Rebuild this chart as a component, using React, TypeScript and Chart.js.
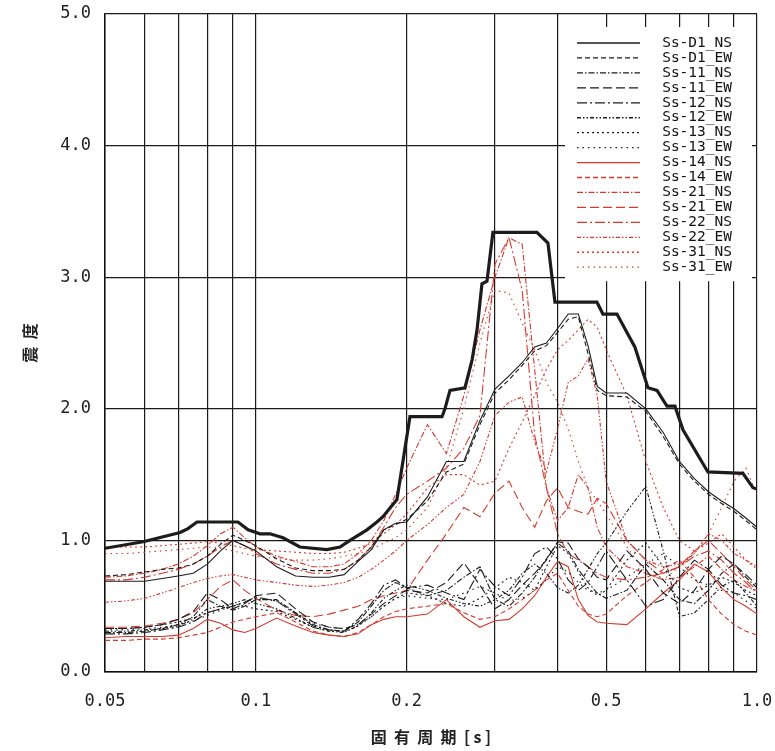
import React, { useEffect, useRef } from 'react';
import { Chart, registerables } from 'chart.js';

Chart.register(...registerables);

// Natural periods (s) shared by the response spectra
const PERIODS = [0.05, 0.055, 0.06, 0.065, 0.07, 0.075, 0.08, 0.085, 0.09, 0.095, 0.1, 0.11, 0.12, 0.13, 0.14, 0.15, 0.16, 0.17, 0.18, 0.19, 0.2, 0.22, 0.24, 0.26, 0.28, 0.3, 0.32, 0.34, 0.36, 0.38, 0.4, 0.42, 0.44, 0.46, 0.48, 0.5, 0.55, 0.6, 0.65, 0.7, 0.75, 0.8, 0.85, 0.9, 0.95, 1.0];

// Thick envelope (design spectrum)
const ENVELOPE_T = [0.05, 0.0596, 0.0706, 0.0732, 0.0763, 0.0921, 0.0965, 0.1019, 0.1067, 0.1133, 0.1224, 0.1386, 0.1472, 0.1541, 0.1666, 0.1744, 0.1793, 0.1912, 0.203, 0.2352, 0.2384, 0.244, 0.2614, 0.27, 0.2763, 0.2826, 0.2892, 0.2972, 0.3638, 0.3827, 0.3952, 0.4793, 0.4927, 0.5255, 0.5502, 0.5705, 0.6059, 0.6316, 0.6612, 0.6859, 0.7116, 0.798, 0.9373, 0.9816, 1.0];
const ENVELOPE_V = [0.94, 0.99, 1.06, 1.09, 1.14, 1.14, 1.08, 1.05, 1.05, 1.02, 0.95, 0.93, 0.95, 1.0, 1.08, 1.14, 1.18, 1.31, 1.94, 1.94, 2.0, 2.14, 2.16, 2.37, 2.6, 2.95, 2.97, 3.34, 3.34, 3.26, 2.81, 2.81, 2.72, 2.72, 2.58, 2.47, 2.16, 2.14, 2.02, 2.02, 1.84, 1.52, 1.51, 1.4, 1.39];

const SS_D1_NS = [0.69, 0.69, 0.69, 0.71, 0.73, 0.75, 0.82, 0.92, 1.0, 0.96, 0.92, 0.8, 0.73, 0.72, 0.72, 0.74, 0.84, 0.93, 1.08, 1.13, 1.14, 1.33, 1.6, 1.6, 1.91, 2.15, 2.25, 2.35, 2.47, 2.5, 2.61, 2.72, 2.72, 2.48, 2.17, 2.12, 2.12, 2.0, 1.82, 1.6, 1.47, 1.37, 1.3, 1.24, 1.17, 1.1];
const SS_D1_EW = [0.73, 0.74, 0.76, 0.78, 0.79, 0.82, 0.88, 0.97, 1.04, 1.0, 0.96, 0.86, 0.79, 0.77, 0.77, 0.78, 0.85, 0.95, 1.08, 1.12, 1.16, 1.3, 1.52, 1.58, 1.88, 2.12, 2.22, 2.33, 2.44, 2.48, 2.58, 2.68, 2.7, 2.42, 2.14, 2.1, 2.09, 1.98, 1.79, 1.58, 1.45, 1.35, 1.28, 1.22, 1.15, 1.08];
const SS_11_NS = [0.3, 0.3, 0.31, 0.33, 0.36, 0.42, 0.55, 0.5, 0.47, 0.5, 0.55, 0.55, 0.45, 0.36, 0.32, 0.31, 0.38, 0.5, 0.62, 0.68, 0.64, 0.58, 0.62, 0.72, 0.8, 0.55, 0.5, 0.6, 0.72, 0.86, 0.98, 0.92, 0.78, 0.68, 0.6, 0.56, 0.62, 0.82, 0.7, 0.55, 0.52, 0.62, 0.75, 0.82, 0.72, 0.64];
const SS_11_EW = [0.33, 0.33, 0.34, 0.36, 0.4, 0.46, 0.6, 0.55, 0.48, 0.52, 0.58, 0.6, 0.48, 0.38, 0.34, 0.33, 0.36, 0.44, 0.52, 0.58, 0.62, 0.6, 0.68, 0.83, 0.66, 0.48, 0.55, 0.66, 0.75, 0.85, 0.99, 0.98, 0.86, 0.8, 0.72, 0.7, 0.92, 0.78, 0.6, 0.52, 0.62, 0.78, 0.88, 0.82, 0.74, 0.66];
const SS_12_NS = [0.29, 0.29, 0.3, 0.32, 0.34, 0.38, 0.45, 0.48, 0.5, 0.53, 0.57, 0.54, 0.44, 0.35, 0.32, 0.31, 0.4, 0.52, 0.66, 0.7, 0.64, 0.66, 0.6, 0.55, 0.78, 0.65, 0.58, 0.72, 0.9, 0.95, 0.86, 0.7, 0.62, 0.68, 0.8, 0.92, 0.7, 0.5, 0.55, 0.72, 0.85, 0.78, 0.66, 0.6, 0.58, 0.55];
const SS_12_EW = [0.31, 0.31, 0.32, 0.33, 0.35, 0.4, 0.48, 0.5, 0.52, 0.55, 0.52, 0.48, 0.41, 0.34, 0.31, 0.3, 0.35, 0.45, 0.56, 0.62, 0.66, 0.62, 0.56, 0.52, 0.5, 0.55, 0.62, 0.75, 0.82, 0.75, 0.64, 0.6, 0.66, 0.78, 0.9, 0.98, 1.22, 1.41, 0.92, 0.42, 0.45, 0.55, 0.65, 0.7, 0.6, 0.5];
const SS_13_NS = [0.33, 0.33, 0.34, 0.36, 0.38, 0.41, 0.45, 0.48, 0.52, 0.5, 0.48, 0.46, 0.4, 0.34, 0.31, 0.31, 0.35, 0.42, 0.5, 0.56, 0.6, 0.58, 0.52, 0.5, 0.56, 0.64, 0.72, 0.68, 0.62, 0.8, 0.96, 0.9, 0.76, 0.64, 0.58, 0.62, 0.85, 0.98, 0.8, 0.64, 0.6, 0.66, 0.72, 0.68, 0.62, 0.58];
const SS_13_EW = [0.32, 0.32, 0.33, 0.34, 0.36, 0.39, 0.43, 0.47, 0.5, 0.53, 0.56, 0.54, 0.45, 0.37, 0.34, 0.33, 0.36, 0.42, 0.5, 0.56, 0.58, 0.56, 0.55, 0.6, 0.65, 0.6, 0.54, 0.56, 0.62, 0.7, 0.8, 0.76, 0.68, 0.62, 0.6, 0.62, 0.72, 0.82, 0.9, 0.8, 0.7, 0.66, 0.62, 0.6, 0.54, 0.48];
const SS_14_NS = [0.26, 0.27, 0.27, 0.27, 0.28, 0.33, 0.4, 0.37, 0.32, 0.3, 0.33, 0.41, 0.35, 0.3, 0.28, 0.27, 0.29, 0.36, 0.4, 0.42, 0.42, 0.44, 0.55, 0.42, 0.34, 0.39, 0.4, 0.48, 0.58, 0.72, 0.84, 0.8, 0.55, 0.43, 0.38, 0.37, 0.36, 0.48, 0.6, 0.7, 0.82, 0.76, 0.64, 0.55, 0.5, 0.44];
const SS_14_EW = [0.24, 0.24, 0.25, 0.25, 0.26, 0.28, 0.3, 0.34, 0.38, 0.4, 0.42, 0.45, 0.38, 0.31, 0.28, 0.27, 0.3, 0.36, 0.42, 0.46, 0.48, 0.5, 0.52, 0.45, 0.4, 0.42, 0.48, 0.55, 0.62, 0.7, 0.75, 0.62, 0.5, 0.44, 0.42, 0.44, 0.58, 0.68, 0.78, 0.85, 0.72, 0.55, 0.44, 0.36, 0.31, 0.28];
const SS_21_NS = [0.72, 0.73, 0.75, 0.78, 0.82, 0.88, 0.96, 1.05, 1.1, 1.02, 0.95, 0.88, 0.84, 0.8, 0.8, 0.82, 0.9, 1.0, 1.15, 1.35, 1.55, 1.88, 1.66, 2.1, 2.6, 3.0, 3.3, 3.25, 2.3, 1.4, 1.15, 1.25, 1.5, 1.4, 1.1, 0.95, 0.8, 0.75, 0.7, 0.72, 0.8, 0.88, 0.78, 0.7, 0.65, 0.62];
const SS_21_EW = [0.34, 0.34, 0.35, 0.37, 0.4, 0.45, 0.55, 0.65, 0.7, 0.62, 0.56, 0.47, 0.43, 0.42, 0.44, 0.47, 0.5, 0.55, 0.58, 0.6, 0.62, 0.85, 1.05, 1.25, 1.18, 1.36, 1.45, 1.25, 1.1, 1.3, 1.4, 1.25, 1.22, 1.2, 1.32, 1.28, 1.0, 0.85, 0.75, 0.8, 0.92, 1.0, 0.9, 0.8, 0.7, 0.62];
const SS_22_NS = [0.7, 0.7, 0.72, 0.75, 0.78, 0.82, 0.88, 0.95, 1.0, 0.96, 0.9, 0.82, 0.78, 0.75, 0.75, 0.78, 0.85, 0.95, 1.1, 1.25, 1.35, 1.45, 1.55, 1.7, 1.95, 3.1, 3.3, 2.9, 1.8, 1.4, 1.05, 0.9, 0.85, 0.8, 0.75, 0.72, 0.7, 0.72, 0.75, 0.8, 0.88, 0.92, 0.85, 0.75, 0.68, 0.6];
const SS_22_EW = [0.53, 0.54, 0.56, 0.6, 0.64, 0.68, 0.71, 0.73, 0.74, 0.72, 0.7, 0.68, 0.66, 0.65, 0.66, 0.68, 0.72, 0.78, 0.85, 0.92, 1.0, 1.12, 1.25, 1.35, 1.6, 1.95, 2.05, 2.09, 1.75, 1.52, 1.85, 2.2, 2.25, 2.38, 2.1, 1.45, 1.0, 0.85, 0.8, 0.82, 0.9, 1.05, 1.0, 0.9, 0.85, 0.8];
const SS_31_NS = [0.95, 0.95, 0.95, 0.96, 0.97, 0.98, 0.99, 0.98, 0.96, 0.94, 0.93, 0.92, 0.91, 0.9, 0.9, 0.91, 0.94, 0.98, 1.05, 1.12, 1.2, 1.4, 1.5, 1.5, 1.42, 1.45, 1.7, 1.9, 2.1, 2.3, 2.45, 2.52, 2.6, 2.68, 2.62, 2.45, 2.1, 1.6, 1.25, 1.0, 0.92, 0.98, 1.05, 0.95, 0.85, 0.78];
const SS_31_EW = [0.9, 0.9, 0.91, 0.92, 0.93, 0.94, 0.95, 0.94, 0.92, 0.9, 0.88, 0.86, 0.85, 0.85, 0.86, 0.88, 0.9, 0.93, 0.98, 1.02, 1.08, 1.25, 1.55, 2.0, 2.5, 2.9, 2.88, 2.65, 2.45, 2.2, 2.05, 1.85, 1.6, 1.4, 1.3, 1.2, 0.95, 0.75, 0.7, 0.8, 0.9, 1.05, 1.25, 1.45, 1.55, 1.35];

const SERIES_LABELS = ['Ss-D1_NS', 'Ss-D1_EW', 'Ss-11_NS', 'Ss-11_EW', 'Ss-12_NS', 'Ss-12_EW', 'Ss-13_NS', 'Ss-13_EW', 'Ss-14_NS', 'Ss-14_EW', 'Ss-21_NS', 'Ss-21_EW', 'Ss-22_NS', 'Ss-22_EW', 'Ss-31_NS', 'Ss-31_EW'];
const SERIES_VALUES = [SS_D1_NS, SS_D1_EW, SS_11_NS, SS_11_EW, SS_12_NS, SS_12_EW, SS_13_NS, SS_13_EW, SS_14_NS, SS_14_EW, SS_21_NS, SS_21_EW, SS_22_NS, SS_22_EW, SS_31_NS, SS_31_EW];

const X_GRID = [0.05, 0.06, 0.07, 0.08, 0.09, 0.1, 0.2, 0.3, 0.4, 0.5, 0.6, 0.7, 0.8, 0.9, 1.0];
const X_LABEL_VALUES = [0.05, 0.1, 0.2, 0.5, 1.0];
const X_LABEL_TEXT = ['0.05', '0.1', '0.2', '0.5', '1.0'];

const BLACK = '#1c1c1c';
const RED = '#d33a2e';
const DASHES: number[][] = [[], [5, 3], [6, 2, 1.5, 2], [9, 4], [10, 3, 2, 3], [4, 2, 1.5, 2, 1.5, 2], [2, 3], [1.5, 4]];

const SERIES = SERIES_LABELS.map((label, i) => ({
  label,
  values: SERIES_VALUES[i],
  color: i < 8 ? BLACK : RED,
  dash: DASHES[i % 8],
}));

const legendBox = {
  id: 'legendBox',
  afterDatasetsDraw(chart: any) {
    const { ctx, chartArea } = chart;
    const yScale = chart.scales.y;
    const left = chartArea.right - 192;
    const right = chartArea.right - 5;
    const top = chartArea.top + 13;
    const bottom = yScale.getPixelForValue(3) + 4;
    ctx.save();
    ctx.fillStyle = '#ffffff';
    ctx.fillRect(left, top, right - left, bottom - top);
    const step = (bottom - top - 30) / (SERIES.length - 1);
    SERIES.forEach((s, i) => {
      const y = top + 16 + i * step;
      ctx.beginPath();
      ctx.setLineDash(s.dash);
      ctx.strokeStyle = s.color;
      ctx.lineWidth = i === 0 ? 1.6 : 1.3;
      ctx.moveTo(left + 12, y);
      ctx.lineTo(left + 75, y);
      ctx.stroke();
      ctx.setLineDash([]);
      ctx.fillStyle = '#111111';
      ctx.font = '14.5px "DejaVu Sans Mono", monospace';
      ctx.textAlign = 'right';
      ctx.textBaseline = 'middle';
      ctx.fillText(s.label, right - 20, y);
    });
    ctx.restore();
  },
};

export default function App() {
  const canvasRef = useRef<HTMLCanvasElement | null>(null);

  useEffect(() => {
    if (!canvasRef.current) return;
    const datasets: any[] = [
      {
        label: 'envelope',
        data: ENVELOPE_T.map((t, i) => ({ x: t, y: ENVELOPE_V[i] })),
        borderColor: BLACK,
        borderWidth: 3.2,
        pointRadius: 0,
        tension: 0,
        fill: false,
      },
      ...SERIES.map((s) => ({
        label: s.label,
        data: PERIODS.map((t, i) => ({ x: t, y: s.values[i] })),
        borderColor: s.color,
        borderDash: s.dash,
        borderWidth: 1.1,
        pointRadius: 0,
        tension: 0,
        fill: false,
      })),
    ];

    const chart = new Chart(canvasRef.current, {
      type: 'line',
      data: { datasets },
      plugins: [legendBox],
      options: {
        animation: false,
        responsive: true,
        maintainAspectRatio: false,
        layout: { padding: { top: 14, right: 18, left: 0, bottom: 0 } },
        plugins: {
          legend: { display: false },
          tooltip: { enabled: false },
        },
        scales: {
          x: {
            type: 'logarithmic',
            min: 0.05,
            max: 1.0,
            afterBuildTicks: (scale: any) => {
              scale.ticks = X_GRID.map((v) => ({ value: v }));
            },
            afterFit: (scale: any) => {
              scale.height = 79;
              scale.paddingLeft = 0;
              scale.paddingRight = 0;
            },
            ticks: {
              autoSkip: false,
              maxRotation: 0,
              minRotation: 0,
              padding: 19,
              color: '#222',
              font: { family: '"DejaVu Sans Mono", monospace', size: 17 },
              callback: (value: any) => {
                const v = Number(value);
                const k = X_LABEL_VALUES.findIndex((t) => Math.abs(t - v) < 1e-9);
                return k >= 0 ? X_LABEL_TEXT[k] : '';
              },
            },
            grid: { color: '#1a1a1a', lineWidth: 1.2, drawTicks: false },
            border: { display: true, color: '#111', width: 1.5 },
            title: {
              display: true,
              text: '固  有  周  期  [ s ]',
              color: '#222',
              font: { family: '"Noto Sans CJK JP", sans-serif', size: 16, weight: 'bold' },
              padding: { top: 0, bottom: 4.4 },
            },
          },
          y: {
            type: 'linear',
            min: 0,
            max: 5,
            afterFit: (scale: any) => {
              scale.width = 105;
              scale.paddingTop = 0;
              scale.paddingBottom = 0;
            },
            ticks: {
              stepSize: 1,
              padding: 14,
              color: '#222',
              font: { family: '"DejaVu Sans Mono", monospace', size: 17 },
              callback: (value: any) => Number(value).toFixed(1),
            },
            grid: { color: '#1a1a1a', lineWidth: 1.2, drawTicks: false },
            border: { display: true, color: '#111', width: 1.5 },
            title: {
              display: true,
              text: '震  度',
              color: '#222',
              font: { family: '"Noto Sans CJK JP", sans-serif', size: 16, weight: 'bold' },
              padding: { top: 20, bottom: 0 },
            },
          },
        },
      } as any,
    });
    return () => chart.destroy();
  }, []);

  return (
    <div style={{ position: 'fixed', left: 0, top: 0, width: 775, height: 751, background: '#ffffff' }}>
      <canvas ref={canvasRef} />
    </div>
  );
}
